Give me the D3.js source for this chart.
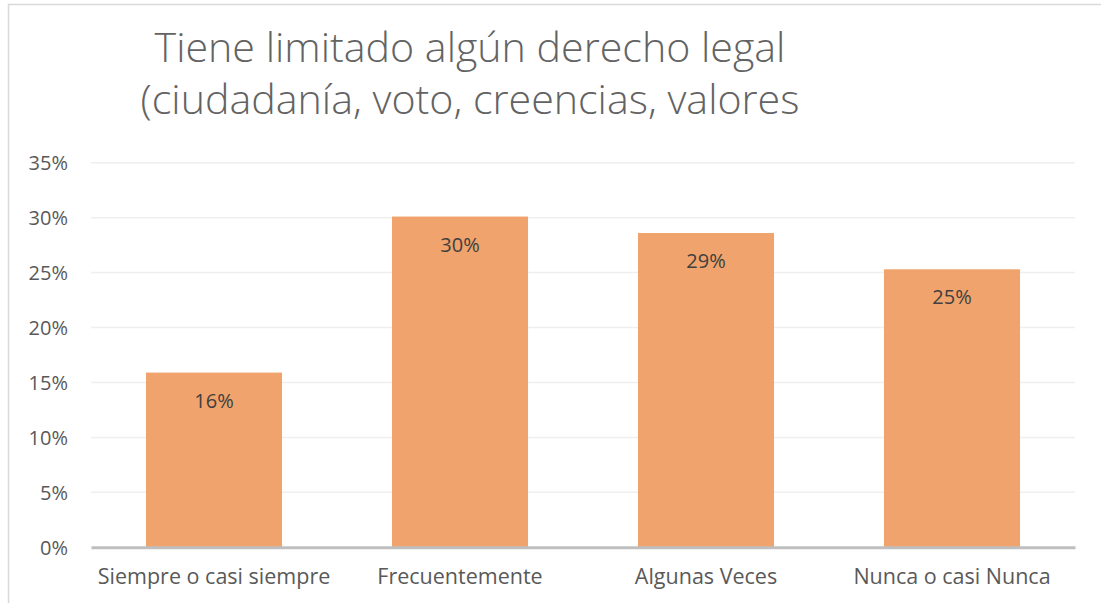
<html>
<head>
<meta charset="utf-8">
<style>
    body { margin: 0; background: #fff; }
    svg text { font-family: "Open Sans", Lato, sans-serif; }
</style>
</head>
<body>
<svg id="chart" width="1101" height="603"></svg>
<script src="https://cdn.jsdelivr.net/npm/d3@7"></script>
<script>
    const titleLines = ["Tiene limitado algún derecho legal", "(ciudadanía, voto, creencias, valores"];
    const categories = ["Siempre o casi siempre", "Frecuentemente", "Algunas Veces", "Nunca o casi Nunca"];
    const values = [0.159, 0.301, 0.286, 0.253];
    const yTicks = [0, 0.05, 0.10, 0.15, 0.20, 0.25, 0.30, 0.35];

    const svg = d3.select("#chart");

    // chart frame (only top and left edges show in the crop)
    svg.append("rect")
        .attr("x", 8.5).attr("y", 4.5)
        .attr("width", 1110).attr("height", 620)
        .attr("fill", "none").attr("stroke", "#d9d9d9").attr("stroke-width", 1.5);

    let x = d3.scaleBand().domain(categories).range([91, 1075]).paddingInner(0.447).paddingOuter(0.2235);
    let y = d3.scaleLinear().domain([0, 0.35]).range([547.3, 162.7]);

    // gridlines
    svg.append("g").selectAll("line")
        .data(yTicks.slice(1))
        .join("line")
        .attr("x1", 91).attr("x2", 1075)
        .attr("y1", d => y(d)).attr("y2", d => y(d))
        .attr("stroke", "#efefef").attr("stroke-width", 1.5);

    // y axis labels
    let yAxis = svg.append("g")
        .attr("transform", "translate(91,0)")
        .call(d3.axisLeft(y).tickValues(yTicks).tickFormat(d3.format(".0%")).tickSize(0).tickPadding(23));
    yAxis.select(".domain").remove();
    yAxis.selectAll("text").attr("fill", "#595959").style("font-size", "20px").attr("dy", "0.35em");

    // bars
    svg.append("g").selectAll("rect")
        .data(values)
        .join("rect")
        .attr("x", (d, i) => x(categories[i]))
        .attr("width", x.bandwidth())
        .attr("y", d => y(d))
        .attr("height", d => y(0) - y(d))
        .attr("fill", "#f0a36c");

    // value labels
    svg.append("g").selectAll("text")
        .data(values)
        .join("text")
        .attr("x", (d, i) => x(categories[i]) + x.bandwidth() / 2)
        .attr("y", d => y(d) + 28)
        .attr("dy", "0.35em")
        .attr("text-anchor", "middle")
        .attr("fill", "#404040")
        .style("font-size", "20px")
        .text(d => d3.format(".0%")(d));

    // x axis
    let xAxis = svg.append("g")
        .attr("transform", "translate(0,547.3)")
        .call(d3.axisBottom(x).tickSize(0).tickPadding(21));
    xAxis.select(".domain").attr("stroke", "#bfbfbf").attr("stroke-width", 3);
    xAxis.selectAll("text").attr("fill", "#595959").style("font-size", "21.5px");

    // title
    let title = svg.append("g").selectAll("text")
        .data(titleLines)
        .join("text")
        .attr("x", 470)
        .attr("y", (d, i) => 62 + i * 52)
        .attr("text-anchor", "middle")
        .attr("fill", "#636363")
        .style("font-weight", 300)
        .style("font-size", "36px")
        .text(d => d);
    // fit first line to ~631px wide, same size for both
    let w = title.node().getComputedTextLength();
    title.style("font-size", (36 * 631 / w) + "px");
</script>
</body>
</html>
